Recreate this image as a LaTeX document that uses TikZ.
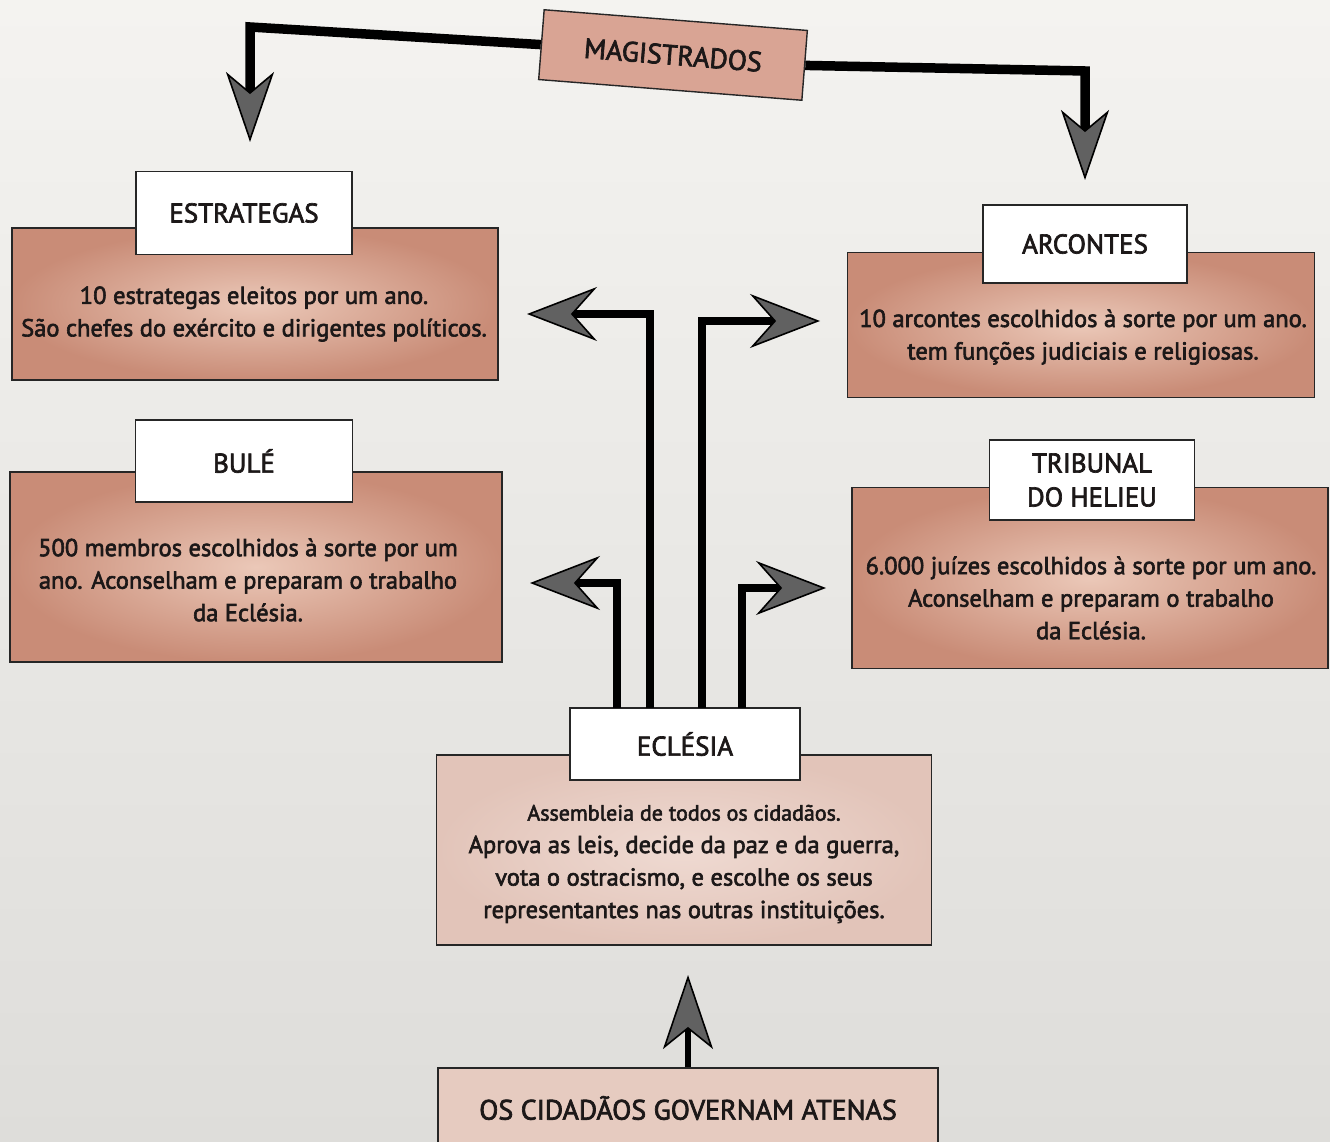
\documentclass[tikz,border=0pt]{standalone}
\usepackage{fontspec}
\setmainfont{PT Sans}[FakeBold=2.5]
\usetikzlibrary{arrows.meta,calc}
\definecolor{pinkin}{HTML}{EBC8B8}
\definecolor{pinkout}{HTML}{C98C77}
\definecolor{eclin}{HTML}{EFDAD2}
\definecolor{eclout}{HTML}{E2C4B9}
\definecolor{magfill}{HTML}{D9A494}
\definecolor{cidfill}{HTML}{E6CBC0}
\definecolor{txt}{HTML}{1C1818}
\definecolor{pagetop}{HTML}{F4F3F0}
\definecolor{pagebot}{HTML}{DEDDDA}
\begin{document}
\begin{tikzpicture}[x=1pt,y=-1pt,
  pinkbox/.style={draw=black!85, line width=1.4pt, inner color=pinkin, outer color=pinkout, inner sep=0pt},
  eclbox/.style={draw=black!85, line width=1.4pt, inner color=eclin, outer color=eclout, inner sep=0pt},
  titlebox/.style={draw=black!85, line width=1.4pt, fill=white, inner sep=0pt, text=txt,
    align=center, font=\fontsize{27}{34}\selectfont},
  bodytxt/.style={align=center, inner sep=0pt, text=txt, font=\fontsize{24.5}{32.5}\selectfont},
  mline/.style={line width=9.5pt, draw=black, line join=miter,
    -{Stealth[length=70pt,width=48pt,inset=20pt,line width=1.6pt,fill=black!62]}},
  bline/.style={line width=8pt, draw=black, line join=miter,
    -{Stealth[length=70pt,width=54pt,inset=24pt,line width=1.6pt,fill=black!62]}},
  uline/.style={line width=6pt, draw=black,
    -{Stealth[length=74pt,width=50pt,inset=20pt,line width=1.6pt,fill=black!62]}}
]
\useasboundingbox[top color=pagetop, bottom color=pagebot] (0,0) rectangle (1330,1142);

% MAGISTRADOS
\node[draw=black!85, line width=1.4pt, fill=magfill, rotate=-4.5, minimum width=264pt, minimum height=70pt,
  inner sep=0pt, text=txt, font=\fontsize{28}{30}\selectfont] (mag) at (673,55) {MAGISTRADOS};

% ESTRATEGAS
\node[pinkbox, minimum width=486pt, minimum height=152pt] (est) at (255,304) {};
\node[bodytxt] (estTxt) at (254,314) {10 estrategas eleitos por um ano.\\São chefes do exército e dirigentes políticos.};
\node[titlebox, minimum width=216pt, minimum height=83pt] (estT) at (244,213) {ESTRATEGAS};

% ARCONTES
\node[pinkbox, minimum width=467pt, minimum height=145pt] (arc) at (1081,325) {};
\node[bodytxt] (arcTxt) at (1083,337) {10 arcontes escolhidos à sorte por um ano.\\tem funções judiciais e religiosas.};
\node[titlebox, minimum width=204pt, minimum height=78pt] (arcT) at (1085,244) {ARCONTES};

% BULE
\node[pinkbox, minimum width=492pt, minimum height=190pt] (bule) at (256,567) {};
\node[bodytxt] (buleTxt) at (248,580) {500 membros escolhidos à sorte por um\\ano. Aconselham e preparam o trabalho\\da Eclésia.};
\node[titlebox, minimum width=217pt, minimum height=82pt] (buleT) at (244,461) {BULÉ};

% TRIBUNAL
\node[pinkbox, minimum width=476pt, minimum height=181pt] (trib) at (1090,578) {};
\node[bodytxt] (tribTxt) at (1091,598) {6.000 juízes escolhidos à sorte por um ano.\\Aconselham e preparam o trabalho\\da Eclésia.};
\node[titlebox, minimum width=205pt, minimum height=80pt] (tribT) at (1092,480) {TRIBUNAL\\DO HELIEU};

% ECLESIA
\node[eclbox, minimum width=495pt, minimum height=190pt] (ecl) at (684,850) {};
\node[bodytxt] (eclTxt) at (684,864) {{\fontsize{22}{32.5}\selectfont Assembleia de todos os cidadãos.}\\Aprova as leis, decide da paz e da guerra,\\vota o ostracismo, e escolhe os seus\\representantes nas outras instituições.};
\node[titlebox, minimum width=230pt, minimum height=72pt] (eclT) at (685,744) {ECLÉSIA};

% OS CIDADAOS
\node[draw=black!85, line width=1.4pt, fill=cidfill, minimum width=500pt, minimum height=90pt,
  inner sep=0pt] (cid) at (688,1113) {};
\node[inner sep=0pt, text=txt, font=\fontsize{28}{30}\selectfont] (cidTxt) at (688,1108) {OS CIDADÃOS GOVERNAM ATENAS};

% coordinates
\coordinate (cA) at (250,27);
\coordinate (tipA) at (250,142);
\coordinate (cB) at (1085,71);
\coordinate (tipB) at (1085,180);
\coordinate (s1) at (650,708);
\coordinate (s2) at (702,708);
\coordinate (s3) at (617,708);
\coordinate (s4) at (742,708);
\coordinate (t1) at (527,314);
\coordinate (t2) at (820,321);
\coordinate (t3) at (530,583);
\coordinate (t4) at (826,588);
\coordinate (tipU) at (688,975);

% magistrados arrows
\draw[mline] (mag.west) -- (cA) -- (tipA);
\draw[mline] (mag.east) -- (cB) -- (tipB);

% branch arrows
\draw[bline] (s1) |- (t1);
\draw[bline] (s2) |- (t2);
\draw[bline] (s3) |- (t3);
\draw[bline] (s4) |- (t4);

% up arrow
\draw[uline] (cid.north) -- (tipU);
\end{tikzpicture}
\end{document}
